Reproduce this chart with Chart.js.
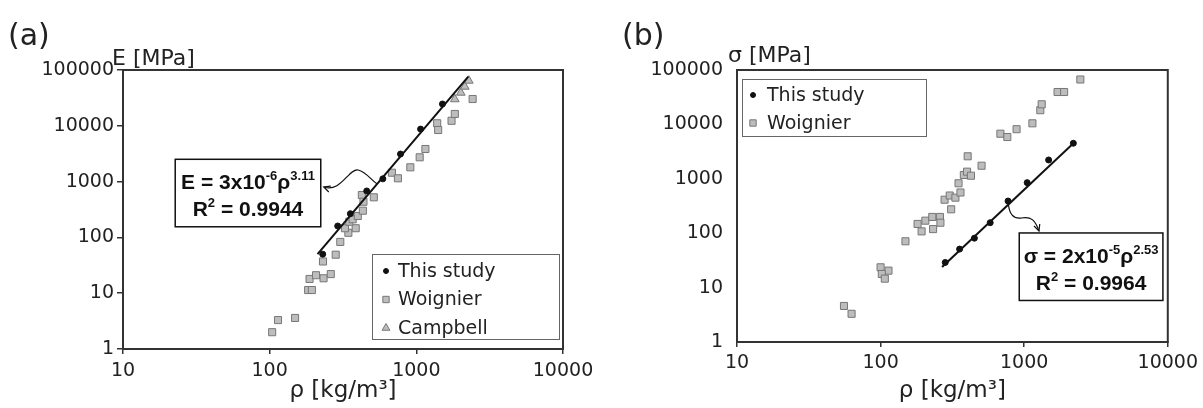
<!DOCTYPE html>
<html>
<head>
<meta charset="utf-8">
<script src="https://cdn.jsdelivr.net/npm/chart.js@4.4.0/dist/chart.umd.min.js"></script>
<style>
  body { margin: 0; background: #fff; }
  #wrap { position: relative; width: 1203px; height: 408px; }
  canvas { position: absolute; top: 0; }
</style>
</head>
<body>
<div id="wrap">
  <canvas id="chartA" width="600" height="408" style="left:0"></canvas>
  <canvas id="chartB" width="603" height="408" style="left:600px"></canvas>
</div>
<script>
// tick values shared by both panels
const densityTicks = [10, 100, 1000, 10000];
const mpaTicks = [1, 10, 100, 1000, 10000, 100000];

// (a) elastic modulus vs density
const studyRhoA = [230, 291, 355, 459, 591, 780, 1069, 1507];
const studyEA = [50, 160, 266, 679, 1120, 3120, 8720, 24600];
const fitRhoA = [212, 2260];
const fitEA = [50, 76000];
const woignierRhoA = [104, 114, 149, 183, 194, 187, 207, 233, 261, 231, 282, 303, 344, 326, 386, 349,
  368, 399, 432, 425, 436, 513, 682, 749, 910, 1054, 1153, 1387, 1409, 1738, 1830, 2420];
const woignierEA = [2.0, 3.3, 3.6, 11.4, 11.4, 18, 21, 18.5, 22, 37, 49, 83, 121, 146, 146, 191,
  211, 242, 301, 575, 436, 523, 1443, 1146, 1803, 2725, 3840, 11100, 8410, 12300, 16300, 30200];
const campbellRhoA = [1830, 2010, 2140, 2280];
const campbellEA = [29900, 39200, 50200, 64300];

// (b) strength vs density
const studyRhoB = [282, 355, 450, 580, 772, 1049, 1480, 2200];
const studySigmaB = [29, 51, 81, 156, 390, 850, 2220, 4500];
const fitRhoB = [268, 2260];
const fitSigmaB = [24, 4810];
const woignierRhoB = [55.6, 62.8, 100, 113.5, 102, 107, 149, 181, 193, 205, 229, 259, 261, 232, 279, 303, 332,
  360, 310, 349, 380, 400, 426, 404, 505, 683, 763, 885, 1141, 1295, 1324, 1708, 1897, 2461];
const woignierSigmaB = [4.6, 3.3, 23.6, 20.5, 17.8, 14.6, 71, 148, 108, 170, 199, 199, 156, 119, 413, 493, 450,
  560, 275, 827, 1175, 1352, 1140, 2593, 1740, 6745, 5860, 8160, 10470, 18240, 23400, 39400, 39400, 66900];

const FONT = 'DejaVu Sans';
const INK = '#222';
const AXIS = '#333';

function zip(xs, ys) {
    return xs.map((x, i) => ({ x: x, y: ys[i] }));
}

function studySet(xs, ys) {
    return { label: 'This study', inLegend: true, data: zip(xs, ys), pointStyle: 'circle', pointRadius: 3,
        backgroundColor: '#111', borderColor: '#111', borderWidth: 1 };
}
function fitSet(xs, ys) {
    return { label: 'fit', data: zip(xs, ys), showLine: true, pointRadius: 0, borderColor: '#111', borderWidth: 2 };
}
function greySet(label, style, xs, ys) {
    return { label: label, inLegend: true, data: zip(xs, ys), pointStyle: style, pointRadius: 5,
        backgroundColor: '#bdbdbd', borderColor: '#777', borderWidth: 1 };
}

// draws text with superscript pieces, centred on cx, baseline y
function drawRich(ctx, parts, cx, y, size) {
    const big = `bold ${size}px "Liberation Sans"`;
    const small = `bold ${Math.round(size * 0.62)}px "Liberation Sans"`;
    let w = 0;
    parts.forEach(p => { ctx.font = p.sup ? small : big; w += ctx.measureText(p.t).width; });
    let x = cx - w / 2;
    ctx.textAlign = 'left';
    ctx.textBaseline = 'alphabetic';
    parts.forEach(p => {
        ctx.font = p.sup ? small : big;
        ctx.fillText(p.t, x, p.sup ? y - size * 0.45 : y);
        x += ctx.measureText(p.t).width;
    });
}

function makeDeco(d) {
    return {
        id: 'deco',
        beforeDatasetsDraw(chart) {
            const { ctx, chartArea: a } = chart;
            ctx.save();
            ctx.strokeStyle = AXIS;
            ctx.lineWidth = 2;
            ctx.strokeRect(a.left, a.top, a.right - a.left, a.bottom - a.top);
            ctx.restore();
        },
        afterDraw(chart) {
            const { ctx, chartArea: a } = chart;
            const sx = chart.scales.x, sy = chart.scales.y;
            const pt = p => [sx.getPixelForValue(p[0]), sy.getPixelForValue(p[1])];
            ctx.save();
            ctx.fillStyle = INK;

            // panel tag and y title
            ctx.font = `30px ${FONT}`;
            ctx.textAlign = 'left';
            ctx.textBaseline = 'alphabetic';
            ctx.fillText(d.tag, d.tagX, 45);
            ctx.font = `22px ${FONT}`;
            ctx.fillText(d.yTitle, a.left + d.yTitleDx, a.top + d.yTitleDy);

            // legend
            const lg = d.legend;
            const lx = lg.corner === 'br' ? a.right - lg.dx - lg.w : a.left + lg.dx;
            const ly = lg.corner === 'br' ? a.bottom - lg.dy - lg.h : a.top + lg.dy;
            ctx.fillStyle = '#fff';
            ctx.fillRect(lx, ly, lg.w, lg.h);
            ctx.strokeStyle = '#666';
            ctx.lineWidth = 1;
            ctx.strokeRect(lx + 0.5, ly + 0.5, lg.w, lg.h);
            let row = 0;
            chart.data.datasets.filter(ds => ds.inLegend).forEach(ds => {
                const yy = ly + lg.first + row * lg.gap;
                ctx.fillStyle = ds.backgroundColor;
                ctx.strokeStyle = ds.borderColor;
                ctx.lineWidth = ds.borderWidth;
                Chart.helpers.drawPoint(ctx, { pointStyle: ds.pointStyle, radius: ds.pointStyle === 'circle' ? 2.5 : 4.5,
                    rotation: 0, borderWidth: ds.borderWidth }, lx + lg.markX, yy);
                ctx.fillStyle = INK;
                ctx.font = `19px ${FONT}`;
                ctx.textBaseline = 'middle';
                ctx.fillText(ds.label, lx + lg.textX, yy + 1);
                row++;
            });

            // equation box
            const n = d.note;
            const [bx0, by0] = pt([n.box[0], n.box[1]]);
            const [bx1, by1] = pt([n.box[2], n.box[3]]);
            ctx.fillStyle = '#fff';
            ctx.fillRect(bx0, by0, bx1 - bx0, by1 - by0);
            ctx.strokeStyle = '#111';
            ctx.lineWidth = 1.5;
            ctx.strokeRect(bx0, by0, bx1 - bx0, by1 - by0);
            ctx.fillStyle = '#111';
            drawRich(ctx, n.line1, (bx0 + bx1) / 2, by0 + 30, 21);
            drawRich(ctx, n.line2, (bx0 + bx1) / 2, by0 + 57, 21);

            // curved pointer
            const p = n.arrow.map(pt);
            ctx.beginPath();
            ctx.moveTo(p[0][0], p[0][1]);
            ctx.bezierCurveTo(p[1][0], p[1][1], p[2][0], p[2][1], p[3][0], p[3][1]);
            ctx.bezierCurveTo(p[4][0], p[4][1], p[5][0], p[5][1], p[6][0], p[6][1]);
            ctx.lineWidth = 1.2;
            ctx.stroke();
            const tip = n.headAtStart ? p[0] : p[6];
            const from = n.headAtStart ? p[1] : p[5];
            const ang = Math.atan2(tip[1] - from[1], tip[0] - from[0]);
            ctx.beginPath();
            ctx.moveTo(tip[0] - 7 * Math.cos(ang - 0.45), tip[1] - 7 * Math.sin(ang - 0.45));
            ctx.lineTo(tip[0], tip[1]);
            ctx.lineTo(tip[0] - 7 * Math.cos(ang + 0.45), tip[1] - 7 * Math.sin(ang + 0.45));
            ctx.stroke();
            ctx.restore();
        }
    };
}

function buildPanel(id, p) {
    new Chart(document.getElementById(id), {
        type: 'scatter',
        data: { datasets: p.datasets },
        options: {
            responsive: false,
            animation: false,
            layout: { padding: p.padding },
            plugins: { legend: { display: false }, tooltip: { enabled: false } },
            scales: {
                x: {
                    type: 'logarithmic', min: 10, max: 10000,
                    afterBuildTicks: s => { s.ticks = densityTicks.map(v => ({ value: v })); },
                    afterFit: s => { s.height = p.xHeight; },
                    ticks: { color: INK, font: { family: FONT, size: 19 }, padding: p.xPad, maxRotation: 0,
                        autoSkip: false, callback: v => String(v) },
                    grid: { drawOnChartArea: false, color: AXIS, lineWidth: 1.5, tickLength: 5 },
                    border: { color: AXIS, width: 2 },
                    title: { display: true, text: 'ρ [kg/m³]', color: INK, font: { family: FONT, size: 23 },
                        padding: { top: 0, bottom: 3 } }
                },
                y: {
                    type: 'logarithmic', min: 1, max: 100000,
                    afterBuildTicks: s => { s.ticks = mpaTicks.map(v => ({ value: v })); },
                    afterFit: s => { s.width = p.yWidth; },
                    ticks: { color: INK, font: { family: FONT, size: 19 }, padding: p.yPad, autoSkip: false,
                        callback: v => String(v) },
                    grid: { drawOnChartArea: false, drawTicks: p.yTicks, color: AXIS, lineWidth: 1.5, tickLength: 6 },
                    border: { color: AXIS, width: 2 }
                }
            }
        },
        plugins: [makeDeco(p.deco)]
    });
}

buildPanel('chartA', {
    datasets: [
        studySet(studyRhoA, studyEA),
        fitSet(fitRhoA, fitEA),
        greySet('Woignier', 'rect', woignierRhoA, woignierEA),
        greySet('Campbell', 'triangle', campbellRhoA, campbellEA)
    ],
    padding: { left: 0, right: 37, top: 70, bottom: 0 },
    xHeight: 59, yWidth: 123, xPad: 6, yPad: 3, yTicks: true,
    deco: {
        tag: '(a)', tagX: 8, yTitle: 'E [MPa]', yTitleDx: -11, yTitleDy: -5,
        legend: { corner: 'br', dx: 4, dy: 10, w: 187, h: 85, first: 17, gap: 28.5, markX: 14, textX: 26 },
        note: {
            box: [22.7, 2510, 223, 155],
            line1: [{ t: 'E = 3x10' }, { t: '-6', sup: true }, { t: 'ρ' }, { t: '3.11', sup: true }],
            line2: [{ t: 'R' }, { t: '2', sup: true }, { t: ' = 0.9944' }],
            arrow: [[234, 800], [306, 625], [347, 1750], [401, 1614], [455, 1486], [492, 1069], [541, 906]],
            headAtStart: true
        }
    }
});

buildPanel('chartB', {
    datasets: [
        studySet(studyRhoB, studySigmaB),
        fitSet(fitRhoB, fitSigmaB),
        greySet('Woignier', 'rect', woignierRhoB, woignierSigmaB)
    ],
    padding: { left: 0, right: 31, top: 70, bottom: 0 },
    xHeight: 66, yWidth: 137, xPad: 5, yPad: 14, yTicks: false,
    deco: {
        tag: '(b)', tagX: 22, yTitle: 'σ [MPa]', yTitleDx: -9, yTitleDy: -8,
        legend: { corner: 'tl', dx: 5, dy: 9, w: 184, h: 57, first: 16, gap: 28, markX: 11, textX: 25 },
        note: {
            box: [924, 101, 9250, 5.8],
            line1: [{ t: 'σ = 2x10' }, { t: '-5', sup: true }, { t: 'ρ' }, { t: '2.53', sup: true }],
            line2: [{ t: 'R' }, { t: '2', sup: true }, { t: ' = 0.9964' }],
            arrow: [[776, 344], [788, 225], [840, 182], [953, 190], [1117, 207], [1191, 175], [1268, 110]],
            headAtStart: false
        }
    }
});
</script>
</body>
</html>
